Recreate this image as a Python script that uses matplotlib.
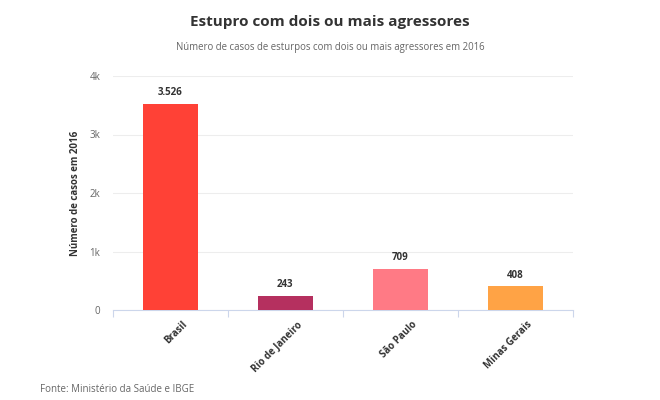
import matplotlib.pyplot as plt

plt.rcParams['font.family'] = ['Open Sans', 'DejaVu Sans']

categories = ["Brasil", "Rio de Janeiro", "São Paulo", "Minas Gerais"]
values = [3526, 243, 709, 408]
value_labels = ["3.526", "243", "709", "408"]
colors = ["#ff4136", "#b5305f", "#ff7a85", "#ffa345"]
yticks = [0, 1000, 2000, 3000, 4000]
ytick_labels = ["0", "1k", "2k", "3k", "4k"]

fig = plt.figure(figsize=(6.6, 4), dpi=100)
ax = fig.add_axes([0.171, 0.225, 0.697, 0.585])

x = range(len(categories))
bars = ax.bar(x, values, width=0.48, color=colors, zorder=3)
for b, lab in zip(bars, value_labels):
	ax.annotate(lab, (b.get_x() + b.get_width() / 2, b.get_height()),
		xytext=(0, 4), textcoords='offset points', ha='center', va='bottom',
		fontsize=7, fontweight='bold', color='#333333')

ax.set_xlim(-0.5, len(categories) - 0.5)
ax.set_ylim(0, 4000)
ax.set_yticks(yticks)
ax.set_yticklabels(ytick_labels)
ax.grid(axis='y', color='#ededed', linewidth=0.8, zorder=0)

ax.set_xticks([i - 0.5 for i in range(len(categories) + 1)], minor=False)
ax.set_xticklabels([])
ax.tick_params(axis='x', length=5, color='#ccd6eb', width=0.8)
ax.tick_params(axis='y', length=0, labelsize=7, labelcolor='#666666', pad=9)
for i, name in enumerate(categories):
	ax.text(i + 0.1, -0.04, name, transform=ax.get_xaxis_transform(),
		rotation=45, ha='right', va='top', rotation_mode='anchor',
		fontsize=7, fontweight='bold', color='#333333')

for s in ['top', 'right', 'left']:
	ax.spines[s].set_visible(False)
ax.spines['bottom'].set_color('#ccd6eb')
ax.spines['bottom'].set_linewidth(0.8)

ax.set_ylabel("Número de casos em 2016", fontsize=7, fontweight='bold',
	color='#333333', labelpad=6)

fig.text(0.5, 0.945, "Estupro com dois ou mais agressores", ha='center', va='center',
	fontsize=11, fontweight='bold', color='#333333')
fig.text(0.5, 0.882, "Número de casos de esturpos com dois ou mais agressores em 2016",
	ha='center', va='center', fontsize=6.9, color='#666666')
fig.text(0.06, 0.027, "Fonte: Ministério da Saúde e IBGE", ha='left', va='center',
	fontsize=7, color='#666666')

fig.savefig("out.png", dpi=100)
